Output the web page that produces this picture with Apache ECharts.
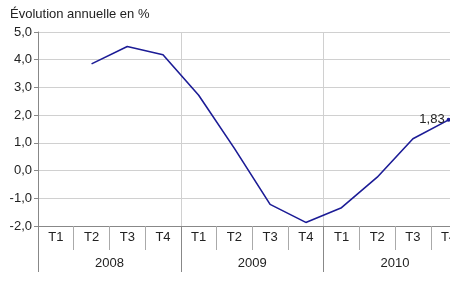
<!DOCTYPE html>
<html><head><meta charset="utf-8">
<script src="https://cdn.jsdelivr.net/npm/echarts@6/dist/echarts.min.js"></script>
<style>html,body{margin:0;padding:0;background:#fff;overflow:hidden}#c{width:467px;height:291px}</style>
</head><body><div id="c"></div>
<script>
const quarters = ['T1','T2','T3','T4','T1','T2','T3','T4','T1','T2','T3','T4'];
const years = ['2008','2009','2010'];
const values = [null, 3.85, 4.48, 4.18, 2.72, 0.8, -1.22, -1.87, -1.34, -0.24, 1.15, 1.83];
const yTicks = {min: -2, max: 5, interval: 1};
const title = 'Évolution annuelle en %';

const chart = echarts.init(document.getElementById('c'));
const font = 'Liberation Sans, Arial, sans-serif';
const fs = 13;
const lastIdx = values.length - 1;
chart.setOption({
  animation: false,
  textStyle: {fontFamily: font},
  title: {text: title, left: 5, top: 3, textStyle: {fontFamily: font, fontSize: fs, fontWeight: 'normal', color: '#222'}},
  grid: {left: 38, top: 32, height: 194, width: 428.5, containLabel: false},
  xAxis: [
    {type: 'category', data: quarters, boundaryGap: true, position: 'bottom',
     axisLine: {show: true, onZero: false, lineStyle: {color: '#888'}},
     axisTick: {show: true, length: 24, interval: 0, lineStyle: {color: '#aaa'}},
     axisLabel: {margin: 5, interval: 0, fontSize: fs, color: '#222', fontFamily: font},
     splitLine: {show: false}},
    {type: 'category', data: years, boundaryGap: true, position: 'bottom',
     axisLine: {show: false, onZero: false},
     axisTick: {show: true, length: 46, interval: 0, lineStyle: {color: '#888'}},
     axisLabel: {margin: 31, interval: 0, fontSize: fs, color: '#222', fontFamily: font},
     splitLine: {show: true, interval: 0, lineStyle: {color: '#d0d0d0', width: 1}}}
  ],
  yAxis: {type: 'value', min: yTicks.min, max: yTicks.max, interval: yTicks.interval,
    axisLine: {show: true, lineStyle: {color: '#888'}},
    axisTick: {show: true, length: 4, lineStyle: {color: '#888'}},
    axisLabel: {margin: 6, fontSize: fs, color: '#222', fontFamily: font,
      formatter: v => v.toFixed(1).replace('.', ',')},
    splitLine: {show: true, lineStyle: {color: '#d0d0d0', width: 1}}},
  series: [{
    type: 'line', xAxisIndex: 0, data: values.map((v, i) => i === lastIdx ? {value: v, symbol: 'circle', symbolSize: 4, label: {show: true}} : v),
    connectNulls: false, symbol: 'none', showSymbol: true,
    lineStyle: {color: '#1c1c96', width: 1.6},
    itemStyle: {color: '#1c1c96'},
    label: {show: false, position: 'left', distance: 2, fontSize: fs, color: '#222', fontFamily: font,
      formatter: p => p.value.toFixed(2).replace('.', ',')}
  }]
});
</script></body></html>
